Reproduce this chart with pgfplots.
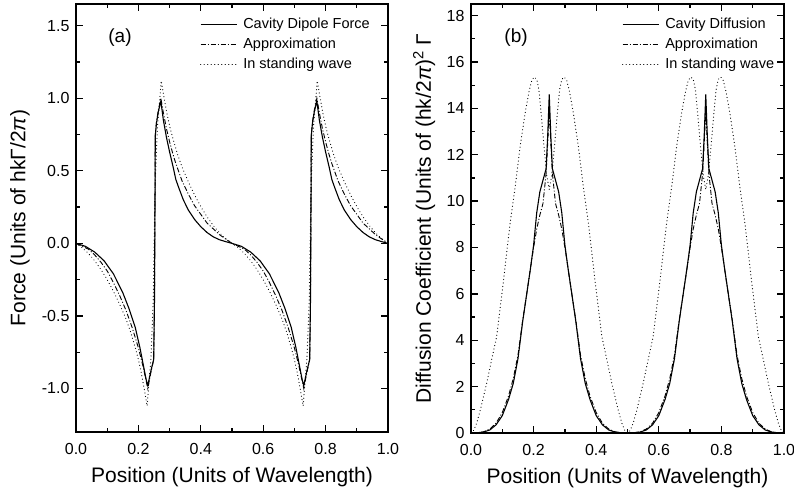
\documentclass[border=0pt]{standalone}
\usepackage{pgfplots}
\pgfplotsset{compat=1.18}
\usepackage{fontspec}
\setmainfont{Liberation Sans}

\begin{document}
\begin{tikzpicture}
\path[use as bounding box] (0,0) rectangle (794pt,500pt);
\pgfplotsset{
  myaxis/.style={
    scale only axis, anchor=south west,
    xmin=0, xmax=1,
    axis line style={line width=1.7pt},
    every tick/.style={line width=1.3pt, black},
    major tick length=7pt, minor tick length=4pt,
    tick align=inside,
    xtick={0,0.2,0.4,0.6,0.8,1.0},
    xticklabels={0.0,0.2,0.4,0.6,0.8,1.0},
    minor x tick num=1,
    tick label style={font=\fontsize{16}{16}\selectfont},
    xticklabel style={yshift=-8pt},
    yticklabel style={xshift=-3pt},
    label style={font=\fontsize{21}{21}\selectfont},
    xlabel={Position (Units of Wavelength)},
    xlabel style={at={(axis description cs:0.5,0)}, anchor=center, yshift=-45pt},
    legend style={draw=none, fill=none, font=\fontsize{14.5}{14.5}\selectfont, anchor=north west, row sep=4pt, column sep=4pt, inner sep=0pt},
    legend cell align=left,
    legend image code/.code={\draw[##1] (0pt,0pt) -- (36pt,0pt);},
  },
  solidc/.style={black, line width=1.1pt},
  dashdotc/.style={black, line width=0.9pt, dash pattern=on 5pt off 2pt on 1pt off 2pt},
  dottedc/.style={black, line width=1.2pt, line cap=round, dash pattern=on 0.01pt off 3.5pt},
}
% ---------------- (a) ----------------
\begin{axis}[myaxis,
  at={(76pt,68pt)}, width=312pt, height=428pt,
  ymin=-1.3, ymax=1.65,
  ytick={-1,-0.5,0,0.5,1,1.5},
  yticklabels={-1.0,-0.5,0.0,0.5,1.0,1.5},
  minor y tick num=1,
  ylabel={Force (Units of hkΓ/2\textit{π})},
  ylabel style={at={(axis description cs:-0.18,0.5)}, anchor=center},
  legend style={at={(axis description cs:0.397,0.972)}},
]
\addplot[solidc] coordinates {
(0,0) (0.03,-0.02) (0.06,-0.06) (0.09,-0.12) (0.12,-0.21) (0.15,-0.34) (0.17,-0.45) (0.19,-0.58) (0.205,-0.72) (0.215,-0.83) (0.225,-0.94) (0.230,-0.98) (0.240,-0.88) (0.249,-0.80) (0.2515,-0.40) (0.2525,0) (0.2535,0.40) (0.254,0.74) (0.258,0.83) (0.264,0.91) (0.272,0.98) (0.280,0.85) (0.290,0.73) (0.300,0.63) (0.312,0.52) (0.320,0.44) (0.330,0.38) (0.344,0.30) (0.360,0.23) (0.380,0.165) (0.400,0.115) (0.420,0.075) (0.440,0.045) (0.460,0.025) (0.480,0.012) (0.500,0)
(0.53,-0.02) (0.56,-0.06) (0.59,-0.12) (0.62,-0.21) (0.65,-0.34) (0.67,-0.45) (0.69,-0.58) (0.705,-0.72) (0.715,-0.83) (0.725,-0.94) (0.730,-0.98) (0.740,-0.88) (0.749,-0.80) (0.7515,-0.40) (0.7525,0) (0.7535,0.40) (0.754,0.74) (0.758,0.83) (0.764,0.91) (0.772,0.98) (0.780,0.85) (0.790,0.73) (0.800,0.63) (0.812,0.52) (0.820,0.44) (0.830,0.38) (0.844,0.30) (0.860,0.23) (0.880,0.165) (0.900,0.115) (0.920,0.075) (0.940,0.045) (0.960,0.025) (0.980,0.012) (1.000,0)
};
\addlegendentry{Cavity Dipole Force}
\addplot[dashdotc] coordinates {
(0,0) (0.02,-0.02) (0.04,-0.04) (0.06,-0.08) (0.08,-0.13) (0.10,-0.19) (0.12,-0.27) (0.14,-0.36) (0.16,-0.46) (0.18,-0.58) (0.20,-0.72) (0.215,-0.85) (0.225,-0.95) (0.230,-1.0) (0.240,-0.89) (0.249,-0.80) (0.2515,-0.40) (0.2525,0) (0.2535,0.40) (0.254,0.74) (0.258,0.84) (0.264,0.92) (0.272,1.0) (0.280,0.90) (0.290,0.79) (0.300,0.70) (0.310,0.62) (0.320,0.55) (0.340,0.43) (0.360,0.34) (0.380,0.26) (0.400,0.20) (0.420,0.14) (0.440,0.10) (0.460,0.06) (0.480,0.03) (0.50,0)
(0.52,-0.02) (0.54,-0.04) (0.56,-0.08) (0.58,-0.13) (0.60,-0.19) (0.62,-0.27) (0.64,-0.36) (0.66,-0.46) (0.68,-0.58) (0.70,-0.72) (0.715,-0.85) (0.725,-0.95) (0.730,-1.0) (0.740,-0.89) (0.749,-0.80) (0.7515,-0.40) (0.7525,0) (0.7535,0.40) (0.754,0.74) (0.758,0.84) (0.764,0.92) (0.772,1.0) (0.780,0.90) (0.790,0.79) (0.800,0.70) (0.810,0.62) (0.820,0.55) (0.840,0.43) (0.860,0.34) (0.880,0.26) (0.900,0.20) (0.920,0.14) (0.940,0.10) (0.960,0.06) (0.980,0.03) (1.00,0)
};
\addlegendentry{Approximation}
\addplot[dottedc] coordinates {
(0,0) (0.02,-0.03) (0.04,-0.07) (0.06,-0.12) (0.08,-0.18) (0.10,-0.25) (0.12,-0.33) (0.14,-0.42) (0.16,-0.52) (0.175,-0.61) (0.19,-0.72) (0.20,-0.80) (0.21,-0.90) (0.22,-1.02) (0.228,-1.12) (0.233,-0.98) (0.240,-0.80) (0.2475,-0.40) (0.2505,0) (0.2535,0.40) (0.261,0.80) (0.268,0.98) (0.273,1.12) (0.281,1.02) (0.291,0.90) (0.301,0.80) (0.311,0.72) (0.326,0.61) (0.341,0.52) (0.361,0.42) (0.381,0.33) (0.401,0.25) (0.421,0.18) (0.441,0.12) (0.461,0.07) (0.481,0.03) (0.50,0)
(0.52,-0.03) (0.54,-0.07) (0.56,-0.12) (0.58,-0.18) (0.60,-0.25) (0.62,-0.33) (0.64,-0.42) (0.66,-0.52) (0.675,-0.61) (0.69,-0.72) (0.70,-0.80) (0.71,-0.90) (0.72,-1.02) (0.728,-1.12) (0.733,-0.98) (0.740,-0.80) (0.7475,-0.40) (0.7505,0) (0.7535,0.40) (0.761,0.80) (0.768,0.98) (0.773,1.12) (0.781,1.02) (0.791,0.90) (0.801,0.80) (0.811,0.72) (0.826,0.61) (0.841,0.52) (0.861,0.42) (0.881,0.33) (0.901,0.25) (0.921,0.18) (0.941,0.12) (0.961,0.07) (0.981,0.03) (1.00,0)
};
\addlegendentry{In standing wave}
\node[font=\fontsize{19}{19}\selectfont] at (axis description cs:0.141,0.921) {(a)};
\end{axis}
% ---------------- (b) ----------------
\begin{axis}[myaxis,
  at={(471pt,67pt)}, width=313pt, height=429pt,
  ymin=0, ymax=18.5,
  ytick={0,2,4,6,8,10,12,14,16,18},
  yticklabels={0,2,4,6,8,10,12,14,16,18},
  minor y tick num=1,
  ylabel={Diffusion Coefficient (Units of (hk/2\textit{π})\textsuperscript{2} Γ},
  ylabel style={at={(axis description cs:-0.15,0.5)}, anchor=center},
  legend style={at={(axis description cs:0.482,0.972)}},
]
\addplot[solidc] coordinates {
(0,0) (0.02,0.01) (0.04,0.04) (0.06,0.13) (0.08,0.35) (0.10,0.75) (0.12,1.45) (0.135,2.14) (0.15,3.2) (0.165,4.8) (0.178,6.0) (0.19,7.1) (0.20,8.1) (0.21,9.5) (0.22,10.4) (0.23,10.9) (0.24,11.4) (0.245,12.8) (0.25,14.6) (0.255,12.8) (0.26,11.4) (0.27,10.9) (0.28,10.4) (0.29,9.5) (0.30,8.1) (0.31,7.1) (0.322,6.0) (0.335,4.8) (0.35,3.2) (0.365,2.14) (0.38,1.45) (0.40,0.75) (0.42,0.35) (0.44,0.13) (0.46,0.04) (0.48,0.01) (0.50,0)
(0.52,0.01) (0.54,0.04) (0.56,0.13) (0.58,0.35) (0.60,0.75) (0.62,1.45) (0.635,2.14) (0.65,3.2) (0.665,4.8) (0.678,6.0) (0.69,7.1) (0.70,8.1) (0.71,9.5) (0.72,10.4) (0.73,10.9) (0.74,11.4) (0.745,12.8) (0.75,14.6) (0.755,12.8) (0.76,11.4) (0.77,10.9) (0.78,10.4) (0.79,9.5) (0.80,8.1) (0.81,7.1) (0.822,6.0) (0.835,4.8) (0.85,3.2) (0.865,2.14) (0.88,1.45) (0.90,0.75) (0.92,0.35) (0.94,0.13) (0.96,0.04) (0.98,0.01) (1.00,0)
};
\addlegendentry{Cavity Diffusion}
\addplot[dashdotc] coordinates {
(0,0) (0.02,0.01) (0.04,0.05) (0.06,0.17) (0.08,0.42) (0.10,0.88) (0.12,1.6) (0.135,2.35) (0.15,3.35) (0.165,4.85) (0.178,6.0) (0.19,7.1) (0.20,8.0) (0.21,8.8) (0.22,9.4) (0.23,9.9) (0.24,11.2) (0.245,12.5) (0.25,13.9) (0.255,12.5) (0.26,11.2) (0.27,9.9) (0.28,9.4) (0.29,8.8) (0.30,8.0) (0.31,7.1) (0.322,6.0) (0.335,4.85) (0.35,3.35) (0.365,2.35) (0.38,1.6) (0.40,0.88) (0.42,0.42) (0.44,0.17) (0.46,0.05) (0.48,0.01) (0.50,0)
(0.52,0.01) (0.54,0.05) (0.56,0.17) (0.58,0.42) (0.60,0.88) (0.62,1.6) (0.635,2.35) (0.65,3.35) (0.665,4.85) (0.678,6.0) (0.69,7.1) (0.70,8.0) (0.71,8.8) (0.72,9.4) (0.73,9.9) (0.74,11.2) (0.745,12.5) (0.75,13.9) (0.755,12.5) (0.76,11.2) (0.77,9.9) (0.78,9.4) (0.79,8.8) (0.80,8.0) (0.81,7.1) (0.822,6.0) (0.835,4.85) (0.85,3.35) (0.865,2.35) (0.88,1.6) (0.90,0.88) (0.92,0.42) (0.94,0.17) (0.96,0.05) (0.98,0.01) (1.00,0)
};
\addlegendentry{Approximation}
\addplot[dottedc] coordinates {
(0,0) (0.009,0.12) (0.018,0.42) (0.03,1.0) (0.05,2.14) (0.065,3.1) (0.082,4.16) (0.095,5.6) (0.105,6.7) (0.115,7.9) (0.125,9.05) (0.141,10.6) (0.157,12.36) (0.173,13.8) (0.185,14.7) (0.194,15.2) (0.202,15.35) (0.21,15.25) (0.217,14.8) (0.224,13.8) (0.233,12.4) (0.242,11.1) (0.25,10.5) (0.258,11.1) (0.267,12.4) (0.276,13.8) (0.283,14.8) (0.29,15.25) (0.298,15.35) (0.306,15.2) (0.315,14.7) (0.327,13.8) (0.343,12.36) (0.359,10.6) (0.375,9.05) (0.385,7.9) (0.395,6.7) (0.405,5.6) (0.418,4.16) (0.435,3.1) (0.45,2.14) (0.47,1.0) (0.482,0.42) (0.491,0.12) (0.5,0)
(0.509,0.12) (0.518,0.42) (0.53,1.0) (0.55,2.14) (0.565,3.1) (0.582,4.16) (0.595,5.6) (0.605,6.7) (0.615,7.9) (0.625,9.05) (0.641,10.6) (0.657,12.36) (0.673,13.8) (0.685,14.7) (0.694,15.2) (0.702,15.35) (0.71,15.25) (0.717,14.8) (0.724,13.8) (0.733,12.4) (0.742,11.1) (0.75,10.5) (0.758,11.1) (0.767,12.4) (0.776,13.8) (0.783,14.8) (0.79,15.25) (0.798,15.35) (0.806,15.2) (0.815,14.7) (0.827,13.8) (0.843,12.36) (0.859,10.6) (0.875,9.05) (0.885,7.9) (0.895,6.7) (0.905,5.6) (0.918,4.16) (0.935,3.1) (0.95,2.14) (0.97,1.0) (0.982,0.42) (0.991,0.12) (1.0,0)
};
\addlegendentry{In standing wave}
\node[font=\fontsize{19}{19}\selectfont] at (axis description cs:0.144,0.921) {(b)};
\end{axis}
\end{tikzpicture}
\end{document}
